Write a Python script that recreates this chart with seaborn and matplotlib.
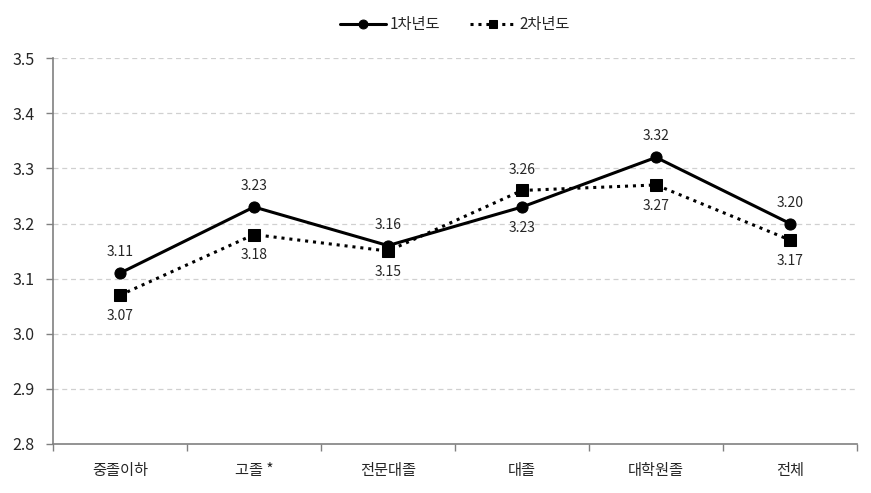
import matplotlib
matplotlib.use("Agg")
import matplotlib.pyplot as plt
import seaborn as sns
import pandas as pd
import numpy as np

categories = ["중졸이하", "고졸 *", "전문대졸", "대졸", "대학원졸", "전체"]
series_names = ["1차년도", "2차년도"]
year1 = [3.11, 3.23, 3.16, 3.23, 3.32, 3.20]
year2 = [3.07, 3.18, 3.15, 3.26, 3.27, 3.17]
y_ticks = [2.8, 2.9, 3.0, 3.1, 3.2, 3.3, 3.4, 3.5]

sns.set_theme(style="white")
plt.rcParams['font.family'] = ['Noto Sans CJK KR', 'DejaVu Sans']

df = pd.DataFrame({
    "pos": list(range(len(categories))) * 2,
    "value": year1 + year2,
    "series": [series_names[0]] * len(categories) + [series_names[1]] * len(categories),
})

fig = plt.figure(figsize=(8.71, 4.93), dpi=100)
ax = fig.add_axes([0.0608, 0.0994, 0.9232, 0.7826])

sns.lineplot(data=df, x="pos", y="value", hue="series", style="series",
             palette={series_names[0]: "black", series_names[1]: "black"},
             dashes={series_names[0]: "", series_names[1]: (1, 1.6)},
             markers={series_names[0]: "o", series_names[1]: "s"},
             markersize=8, linewidth=2.2, ax=ax, legend=True)
for line in ax.lines:
    line.set_markeredgecolor("black")

ax.set_xlim(-0.5, len(categories) - 0.5)
ax.set_ylim(2.8, 3.5)
ax.set_yticks(y_ticks)
ax.set_yticklabels([f"{v:.1f}" for v in y_ticks], fontsize=11.5)
ax.set_xticks(np.arange(len(categories)))
ax.set_xticklabels(categories, fontsize=11)
ax.set_xticks(np.arange(len(categories) + 1) - 0.5, minor=True)
ax.tick_params(axis="x", which="major", length=0, pad=13)
ax.tick_params(axis="x", which="minor", length=5, color="#808080", width=1, direction="out", bottom=True)
ax.tick_params(axis="y", length=5, color="#808080", width=1, direction="out", left=True, pad=8)
ax.set_xlabel("")
ax.set_ylabel("")

for y in y_ticks[1:]:
    ax.axhline(y, color="#d0d0d0", linestyle=(0, (4, 3)), linewidth=0.9, zorder=0)

for s in ["top", "right"]:
    ax.spines[s].set_visible(False)
for s in ["left", "bottom"]:
    ax.spines[s].set_color("#808080")
    ax.spines[s].set_linewidth(1.2)

for i in range(len(categories)):
    a, b = year1[i], year2[i]
    for v, other in ((a, b), (b, a)):
        if v >= other:
            ax.annotate(f"{v:.2f}", (i, v), xytext=(0, 10), textcoords="offset points",
                        ha="center", va="bottom", fontsize=10)
        else:
            ax.annotate(f"{v:.2f}", (i, v), xytext=(0, -10), textcoords="offset points",
                        ha="center", va="top", fontsize=10)

leg = ax.legend(loc="lower center", bbox_to_anchor=(0.5, 1.03), ncol=2, frameon=False,
                fontsize=11, handlelength=3.0, columnspacing=2.0, handletextpad=0.2,
                markerscale=0.8)

fig.savefig("out.png", dpi=100)
